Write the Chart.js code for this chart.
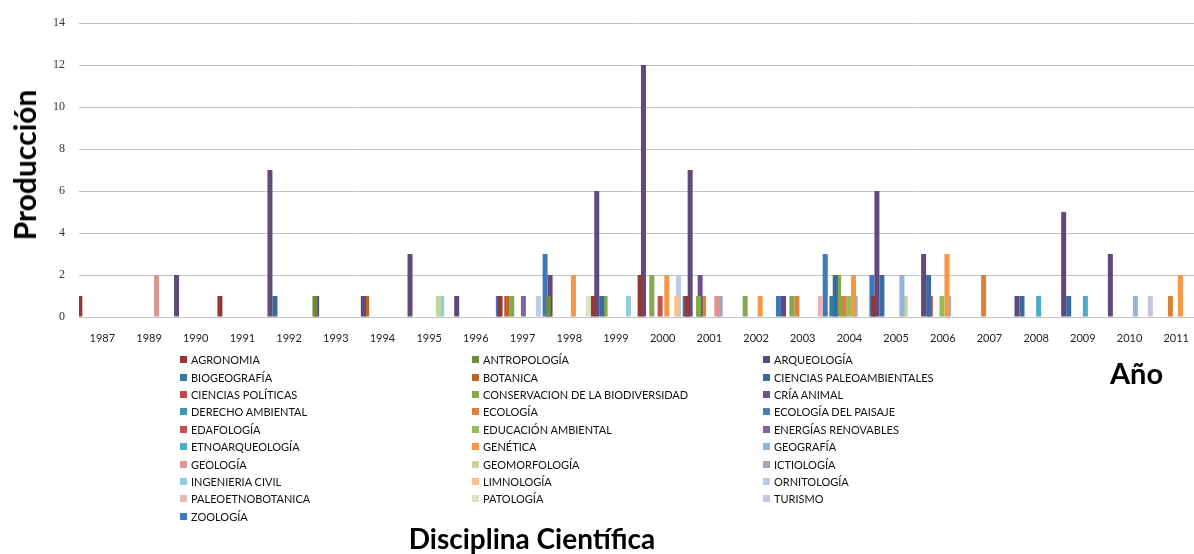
<!DOCTYPE html>
<html lang="es">
<head>
<meta charset="utf-8">
<title>Producción por disciplina científica</title>
<script src="https://cdn.jsdelivr.net/npm/chart.js@4.4.1/dist/chart.umd.min.js"></script>
<style>
  html, body { margin: 0; padding: 0; background: #fff; overflow: hidden; }
  #wrap { position: relative; width: 1194px; height: 554px; overflow: hidden; }
  #grafico { position: absolute; left: 0; top: 0; }
  .titulo { position: absolute; font-family: Lato, sans-serif; font-weight: 700; color: #000; white-space: nowrap; line-height: 1; }
  #tituloY { left: 24px; top: 165px; font-size: 30px; transform: translate(-50%, -50%) rotate(-90deg); }
  #tituloX { left: 532px; top: 524px; font-size: 28px; transform: translateX(-50%); }
  #tituloAnio { left: 1110px; top: 358px; font-size: 29px; }
  #leyenda { position: absolute; left: 180px; top: 351px; display: grid;
    grid-template-columns: 292px 291px 300px; grid-auto-rows: 17.4px;
    font-family: Lato, sans-serif; font-size: 11px; color: #111; }
  .item { display: flex; align-items: center; white-space: nowrap; }
  .item i { display: inline-block; width: 7px; height: 7px; margin-right: 4px; }
</style>
</head>
<body>
<div id="wrap">
  <canvas id="grafico" width="1204" height="554"></canvas>
  <div class="titulo" id="tituloY">Producción</div>
  <div class="titulo" id="tituloAnio">Año</div>
  <div class="titulo" id="tituloX">Disciplina Científica</div>
  <div id="leyenda"></div>
</div>
<script>
// categorias (eje X)
const anios = ['1987', '1989', '1990', '1991', '1992', '1993', '1994', '1995', '1996', '1997', '1998', '1999',
  '2000', '2001', '2002', '2003', '2004', '2005', '2006', '2007', '2008', '2009', '2010', '2011'];

const disciplinas = ['AGRONOMIA', 'ANTROPOLOGÍA', 'ARQUEOLOGÍA', 'BIOGEOGRAFÍA', 'BOTANICA',
  'CIENCIAS PALEOAMBIENTALES', 'CIENCIAS POLÍTICAS', 'CONSERVACION DE LA BIODIVERSIDAD', 'CRÍA ANIMAL',
  'DERECHO AMBIENTAL', 'ECOLOGÍA', 'ECOLOGÍA DEL PAISAJE', 'EDAFOLOGÍA', 'EDUCACIÓN AMBIENTAL',
  'ENERGÍAS RENOVABLES', 'ETNOARQUEOLOGÍA', 'GENÉTICA', 'GEOGRAFÍA', 'GEOLOGÍA', 'GEOMORFOLOGÍA',
  'ICTIOLOGÍA', 'INGENIERIA CIVIL', 'LIMNOLOGÍA', 'ORNITOLOGÍA', 'PALEOETNOBOTANICA', 'PATOLOGÍA',
  'TURISMO', 'ZOOLOGÍA'];

// produccion por año (mismo orden que anios)
const agronomia        = [1,0,0,1,0,0,0,0,0,1,0,1,2,1,0,0,0,1,0,0,0,0,0,0];
const antropologia     = [0,0,0,0,0,1,0,0,0,0,1,0,0,0,0,0,0,0,0,0,0,0,0,0];
const arqueologia      = [0,0,2,0,7,1,1,3,1,0,2,6,12,7,0,1,0,6,3,0,1,5,3,0];
const biogeografia     = [0,0,0,0,0,0,0,0,0,0,0,0,0,0,0,0,1,0,0,0,0,0,0,0];
const botanica         = [0,0,0,0,0,0,1,0,0,1,0,0,0,0,0,0,0,0,0,0,0,0,0,0];
const paleoambientales = [0,0,0,0,1,0,0,0,0,0,0,1,0,0,0,0,2,2,2,0,1,1,0,0];
const politicas        = [0,0,0,0,0,0,0,0,0,0,0,0,0,0,0,0,0,0,1,0,0,0,0,0];
const conservacion     = [0,0,0,0,0,0,0,0,0,1,0,1,2,1,1,1,2,0,0,0,0,0,0,0];
const criaAnimal       = [0,0,0,0,0,0,0,0,0,0,0,0,0,2,0,0,0,0,0,0,0,0,0,0];
const derecho          = [0,0,0,0,0,0,0,0,0,0,0,0,0,0,0,0,0,0,0,0,0,0,0,0];
const ecologia         = [0,0,0,0,0,0,0,0,0,0,0,0,0,1,0,1,1,0,0,2,0,0,0,1];
const paisaje          = [0,0,0,0,0,0,0,0,0,0,0,0,0,0,0,0,0,0,0,0,0,0,0,0];
const edafologia       = [0,0,0,0,0,0,0,0,0,0,0,0,1,0,0,0,0,0,0,0,0,0,0,0];
const educacion        = [0,0,0,0,0,0,0,0,0,0,0,0,0,0,0,0,1,0,1,0,0,0,0,0];
const energias         = [0,0,0,0,0,0,0,0,0,1,0,0,0,0,0,0,0,0,0,0,0,0,0,0];
const etnoarqueologia  = [0,0,0,0,0,0,0,0,0,0,0,0,0,0,0,0,0,0,0,0,1,1,0,0];
const genetica         = [0,0,0,0,0,0,0,0,0,0,2,0,2,0,1,0,2,0,3,0,0,0,0,2];
const geografia        = [0,0,0,0,0,0,0,0,0,0,0,0,0,0,0,0,1,2,1,0,0,0,1,0];
const geologia         = [0,2,0,0,0,0,0,0,0,0,0,0,0,1,0,0,0,0,0,0,0,0,0,0];
const geomorfologia    = [0,0,0,0,0,0,0,1,0,0,0,0,0,0,0,0,0,1,0,0,0,0,0,0];
const ictiologia       = [0,0,0,0,0,0,0,0,0,0,0,0,0,1,0,0,0,0,0,0,0,0,0,0];
const ingenieria       = [0,0,0,0,0,0,0,1,0,0,0,1,0,0,0,0,0,0,0,0,0,0,0,0];
const limnologia       = [0,0,0,0,0,0,0,0,0,0,0,0,1,0,0,0,0,0,0,0,0,0,0,0];
const ornitologia      = [0,0,0,0,0,0,0,0,0,1,0,0,2,0,0,0,0,0,0,0,0,0,0,0];
const paleoetnobot     = [0,0,0,0,0,0,0,0,0,0,0,0,0,0,0,1,0,0,0,0,0,0,0,0];
const patologia        = [0,0,0,0,0,0,0,0,0,0,1,0,0,0,0,0,0,0,0,0,0,0,0,0];
const turismo          = [0,0,0,0,0,0,0,0,0,0,0,0,0,0,0,0,0,0,0,0,0,0,1,0];
const zoologia         = [0,0,0,0,0,0,0,0,1,3,0,0,1,0,1,3,2,0,0,0,0,0,0,0];

const series = [agronomia, antropologia, arqueologia, biogeografia, botanica, paleoambientales,
  politicas, conservacion, criaAnimal, derecho, ecologia, paisaje, edafologia, educacion, energias,
  etnoarqueologia, genetica, geografia, geologia, geomorfologia, ictiologia, ingenieria, limnologia,
  ornitologia, paleoetnobot, patologia, turismo, zoologia];

// colores de cada disciplina
const colores = ['#953735', '#6f8a3f', '#5f4a7b', '#2f7f98', '#b7652b', '#3b6aa0', '#be4b48', '#86a84c',
  '#6b5190', '#3b95ab', '#d9823b', '#4a7ebb', '#c4514f', '#9bbb59', '#8064a2', '#4bacc6', '#f79646',
  '#95b3d7', '#d99694', '#c3d69b', '#ab9fba', '#93cddd', '#fac090', '#b9cde5', '#e6b9b8', '#d7e4bd',
  '#ccc1da', '#3f78be'];

const chart = new Chart(document.getElementById('grafico'), {
  type: 'bar',
  data: {
    labels: anios,
    datasets: disciplinas.map((d, i) => ({
      label: d,
      data: series[i],
      backgroundColor: colores[i],
      borderWidth: 0,
      barPercentage: 3,
      categoryPercentage: 1
    }))
  },
  options: {
    responsive: false,
    animation: false,
    layout: { padding: { top: 23, right: 0, bottom: 0, left: 0 } },
    plugins: { legend: { display: false }, tooltip: { enabled: false } },
    scales: {
      x: {
        grid: { display: false, drawTicks: false },
        border: { display: true, color: '#c4c4c4' },
        ticks: { padding: 15, autoSkip: false, maxRotation: 0, color: '#222', font: { family: 'Lato', size: 11 } },
        afterFit(s) { s.height = 554 - 317; }
      },
      y: {
        min: 0,
        max: 14,
        grid: { color: '#c4c4c4', drawTicks: false },
        border: { display: false },
        ticks: { stepSize: 2, padding: 14, color: '#333', font: { family: 'Liberation Serif', size: 12 } },
        afterFit(s) { s.width = 79; }
      }
    }
  }
});

// leyenda en 3 columnas
const leyenda = document.getElementById('leyenda');
chart.data.datasets.forEach(ds => {
  const item = document.createElement('div');
  item.className = 'item';
  item.innerHTML = '<i style="background:' + ds.backgroundColor + '"></i>' + ds.label;
  leyenda.appendChild(item);
});
</script>
</body>
</html>
